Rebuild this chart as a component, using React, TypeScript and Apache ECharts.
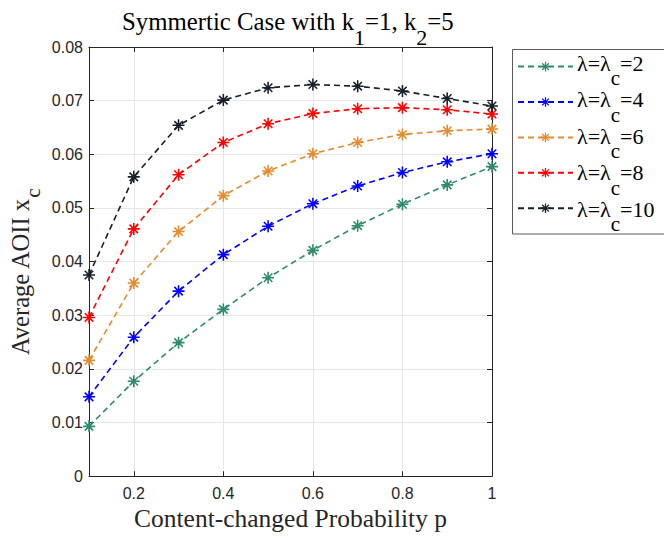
import React, { useEffect, useRef } from "react";
import * as echarts from "echarts";

const pValues = [0.1, 0.2, 0.3, 0.4, 0.5, 0.6, 0.7, 0.8, 0.9, 1.0];
const lambda2 = [0.0093, 0.0177, 0.0249, 0.0311, 0.037, 0.0421, 0.0467, 0.0507, 0.0543, 0.0577];
const lambda4 = [0.0148, 0.0259, 0.0345, 0.0413, 0.0466, 0.0508, 0.0541, 0.0566, 0.0586, 0.0601];
const lambda6 = [0.0216, 0.036, 0.0456, 0.0523, 0.0569, 0.0601, 0.0622, 0.0637, 0.0644, 0.0647];
const lambda8 = [0.0296, 0.0461, 0.0562, 0.0622, 0.0657, 0.0676, 0.0685, 0.0687, 0.0683, 0.0675];
const lambda10 = [0.0375, 0.0558, 0.0654, 0.0701, 0.0724, 0.073, 0.0727, 0.0718, 0.0704, 0.069];
const lambdaLabels = ["2", "4", "6", "8", "10"];
const xTicks = [0.2, 0.4, 0.6, 0.8, 1];

const seriesValues = [lambda2, lambda4, lambda6, lambda8, lambda10];
const colors = ["#2E8B6B", "#0000FF", "#E68A2E", "#FF0000", "#16202B"];

function asteriskPath(): string {
  const c = 10, L = 10, w = 1.3;
  let d = "";
  [0, 45, 90, 135].forEach((deg) => {
    const t = (deg * Math.PI) / 180;
    const ux = Math.cos(t), uy = Math.sin(t);
    const vx = -uy, vy = ux;
    const pts = [
      [c - L * ux - w * vx, c - L * uy - w * vy],
      [c + L * ux - w * vx, c + L * uy - w * vy],
      [c + L * ux + w * vx, c + L * uy + w * vy],
      [c - L * ux + w * vx, c - L * uy + w * vy],
    ];
    d += "M" + pts.map((p) => p[0].toFixed(3) + " " + p[1].toFixed(3)).join(" L") + " Z ";
  });
  return "path://" + d.trim();
}

const SERIF = "Liberation Serif";
const SANS = "Liberation Sans";

let measureCtx: CanvasRenderingContext2D | null = null;
function measure(text: string, size: number): number {
  if (!measureCtx) measureCtx = document.createElement("canvas").getContext("2d");
  if (!measureCtx) return text.length * size * 0.5;
  measureCtx.font = `${size}px "${SERIF}"`;
  return measureCtx.measureText(text).width;
}

type Piece = { t: string; sub?: boolean };
// Builds text pieces laid out along a baseline at local y = 0, starting at x = 0.
function textRun(pieces: Piece[], mainSize: number, subSize: number, subDrop: number, color: string) {
  let x = 0;
  const out: any[] = [];
  pieces.forEach((p) => {
    const size = p.sub ? subSize : mainSize;
    const baseY = p.sub ? subDrop : 0;
    out.push({
      type: "text",
      x,
      y: baseY - 0.3375 * size,
      z: 20,
      style: {
        text: p.t,
        fontFamily: SERIF,
        fontSize: size,
        fill: color,
        align: "left",
        verticalAlign: "middle",
      },
    });
    x += measure(p.t, size);
  });
  return out;
}

export default function App() {
  const ref = useRef<HTMLDivElement>(null);
  useEffect(() => {
    if (!ref.current) return;
    const chart = echarts.init(ref.current, undefined, { renderer: "svg" });
    const sym = asteriskPath();
    const axisColor = "#262626";
    const gridColor = "#e6e6e6";
    const series = seriesValues.map((vals, i) => ({
      name: lambdaLabels[i],
      type: "line",
      data: vals.map((v, j) => [pValues[j], v]),
      symbol: sym,
      symbolSize: 12,
      showSymbol: true,
      color: colors[i],
      itemStyle: { color: colors[i] },
      lineStyle: { color: colors[i], width: 1.6, type: [6, 4] },
      xAxisIndex: 0,
      yAxisIndex: 0,
      z: 3 + i,
    }));

    const titleGroup = {
      type: "group",
      x: 122,
      y: 30,
      children: textRun(
        [{ t: "Symmertic Case with k" }, { t: "1", sub: true }, { t: "=1, k" }, { t: "2", sub: true }, { t: "=5" }],
        24.8, 22, 15, "#000"
      ),
    };
    const yNameGroup = {
      type: "group",
      x: 29,
      y: 355,
      rotation: Math.PI / 2,
      children: textRun([{ t: "Average AOII x" }, { t: "c", sub: true }], 24.5, 21, 11, "#262626"),
    };
    const legendBox = {
      type: "rect",
      z: 1,
      shape: { x: 512.5, y: 49.5, width: 200, height: 184.5 },
      style: { fill: "none", stroke: "#5a5a5a", lineWidth: 1 },
    };
    const legendTexts = lambdaLabels.map((lab, k) => ({
      type: "group",
      x: 577,
      y: 70.6 + k * 36.6,
      children: textRun([{ t: "λ=λ" }, { t: "c", sub: true }, { t: "=" + lab }], 22, 21, 14.5, "#000"),
    }));

    chart.setOption({
      animation: false,
      backgroundColor: "#ffffff",
      legend: {
        left: 517,
        top: 60.6,
        orient: "vertical",
        itemWidth: 55,
        itemHeight: 12,
        itemGap: 24.6,
        padding: 0,
        borderWidth: 0,
        z: 5,
        data: lambdaLabels,
        formatter: () => "",
        textStyle: { fontSize: 1 },
      },
      graphic: { elements: [legendBox, titleGroup, yNameGroup, ...legendTexts] },
      grid: { left: 89, right: 172, top: 47, bottom: 58, containLabel: false },
      xAxis: [
        {
          type: "value",
          position: "bottom",
          min: 0.1,
          max: 1,
          name: "Content-changed Probability p",
          nameLocation: "middle",
          nameGap: 29,
          nameMoveOverlap: false,
          nameTextStyle: { fontFamily: SERIF, fontSize: 25.5, color: "#262626", lineHeight: 25.5 },
          axisLine: { show: true, onZero: false, lineStyle: { color: axisColor, width: 1 } },
          axisTick: { show: true, inside: true, length: 5, customValues: xTicks, lineStyle: { color: axisColor } },
          axisLabel: {
            customValues: xTicks,
            fontFamily: SANS,
            fontSize: 16,
            color: axisColor,
            margin: 9,
            formatter: (v: number) => String(Math.round(v * 10) / 10),
          },
          splitLine: { show: true, lineStyle: { color: gridColor, width: 1 } },
        },
        {
          type: "value",
          position: "top",
          min: 0.1,
          max: 1,
          axisLine: { show: true, onZero: false, lineStyle: { color: axisColor, width: 1 } },
          axisTick: { show: true, inside: true, length: 5, customValues: xTicks, lineStyle: { color: axisColor } },
          axisLabel: { show: false },
          splitLine: { show: false },
        },
      ],
      yAxis: [
        {
          type: "value",
          position: "left",
          min: 0,
          max: 0.08,
          interval: 0.01,
          axisLine: { show: true, onZero: false, lineStyle: { color: axisColor, width: 1 } },
          axisTick: { show: true, inside: true, length: 5, lineStyle: { color: axisColor } },
          axisLabel: {
            fontFamily: SANS,
            fontSize: 16,
            color: axisColor,
            margin: 6,
            formatter: (v: number) => (v === 0 ? "0" : v.toFixed(2)),
          },
          splitLine: { show: true, lineStyle: { color: gridColor, width: 1 } },
        },
        {
          type: "value",
          position: "right",
          min: 0,
          max: 0.08,
          interval: 0.01,
          axisLine: { show: true, onZero: false, lineStyle: { color: axisColor, width: 1 } },
          axisTick: { show: true, inside: true, length: 5, lineStyle: { color: axisColor } },
          axisLabel: { show: false },
          splitLine: { show: false },
        },
      ],
      series,
    });
    return () => chart.dispose();
  }, []);
  return (
    <div
      ref={ref}
      style={{ position: "fixed", left: 0, top: 0, width: 664, height: 536, background: "#fff" }}
    />
  );
}
